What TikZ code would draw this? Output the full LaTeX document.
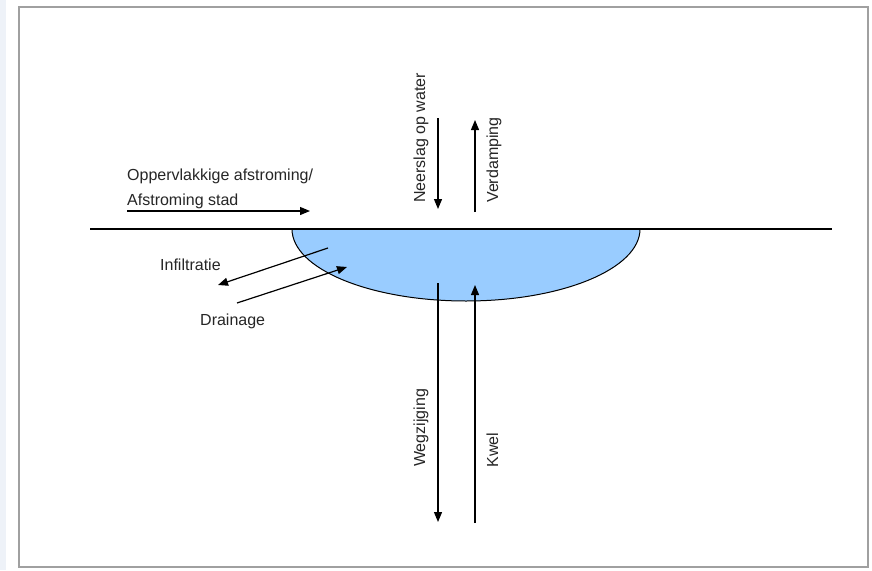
\documentclass[tikz,border=0pt]{standalone}
\usepackage{fontspec}
\setmainfont{Liberation Sans}
\usetikzlibrary{arrows.meta}
\definecolor{meer}{HTML}{99CCFF}
\definecolor{kader}{HTML}{A0A0A0}
\definecolor{rand}{HTML}{EEF2F8}

\begin{document}
\begin{tikzpicture}[x=1pt, y=-1pt, >={Triangle[length=10pt,width=8pt]},
        lbl/.style = {inner sep=0pt, font=\fontsize{16pt}{19pt}\selectfont, text=black!85},
        pijl/.style = {->, line width=1.2pt}]
        \useasboundingbox (0,0) rectangle (872,570);
        \fill[white] (0,0) rectangle (872,570);
        \fill[rand] (0,0) rectangle (6,570);
        \draw[kader, line width=2pt] (19,7) rectangle (868,567);

        % Meer
        \fill[meer] (292,229) arc[start angle=180, end angle=360, x radius=174pt, y radius=72pt] -- cycle;
        \draw[line width=1pt] (292,229) arc[start angle=180, end angle=360, x radius=174pt, y radius=72pt];
        % Maaiveld
        \draw[line width=1.2pt] (90,229) -- (832,229);

        % Teksten
        \node[lbl, anchor=base west] (opp) at (127,180) {Oppervlakkige afstroming/};
        \node[lbl, anchor=base west] (stad) at (127,205) {Afstroming stad};
        \node[lbl, anchor=base west] (infil) at (160,270) {Infiltratie};
        \node[lbl, anchor=base west] (drain) at (200,325) {Drainage};
        \node[lbl, rotate=90, anchor=base] (neer) at (425,138) {Neerslag op water};
        \node[lbl, rotate=90, anchor=base] (verd) at (498,160) {Verdamping};
        \node[lbl, rotate=90, anchor=base] (weg) at (425,428) {Wegzijging};
        \node[lbl, rotate=90, anchor=base] (kwel) at (498,450) {Kwel};

        % Eindpunten van de pijlen
        \coordinate (opp1) at (127,211);  \coordinate (opp2) at (310,211);
        \coordinate (inf1) at (328,248);  \coordinate (inf2) at (218,285);
        \coordinate (dr1) at (237,303);   \coordinate (dr2) at (347,267);
        \coordinate (ns1) at (438,118);   \coordinate (ns2) at (438,209);
        \coordinate (vd1) at (475,212);   \coordinate (vd2) at (475,120);
        \coordinate (wz1) at (438,283);   \coordinate (wz2) at (438,522);
        \coordinate (kw1) at (475,523);   \coordinate (kw2) at (475,285);

        % Pijlen
        \draw[pijl] (opp1) -- (opp2);
        \draw[pijl] (inf1) -- (inf2);
        \draw[pijl] (dr1) -- (dr2);
        \draw[pijl] (ns1) -- (ns2);
        \draw[pijl] (vd1) -- (vd2);
        \draw[pijl] (wz1) -- (wz2);
        \draw[pijl] (kw1) -- (kw2);
    \end{tikzpicture}
\end{document}
